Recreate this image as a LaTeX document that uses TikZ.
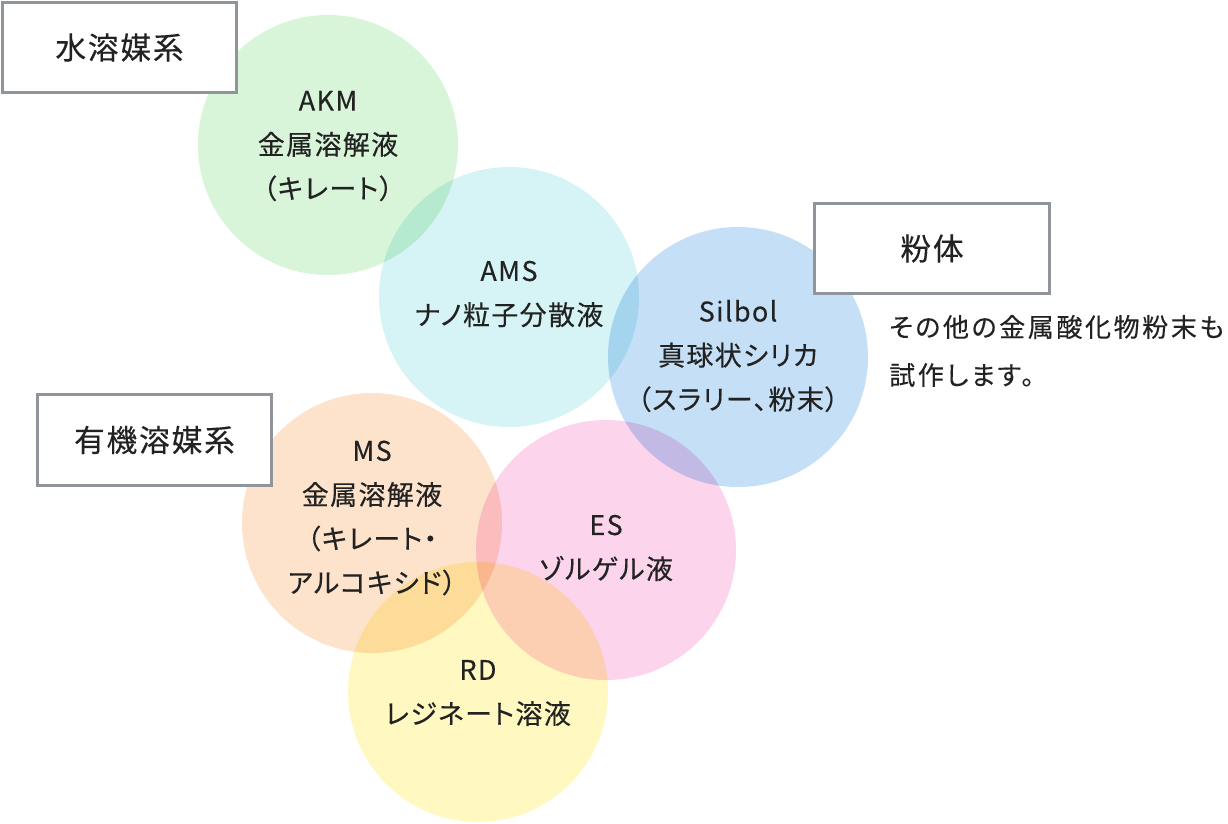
\documentclass[tikz,border=0pt]{standalone}
\usepackage{fontspec}
\setmainfont{Noto Sans CJK JP}
\newfontfamily\jpc[LetterSpace=5,RawFeature=+palt,FakeBold=0.3]{Noto Sans CJK JP}
\newfontfamily\jpb[LetterSpace=6,RawFeature=+palt,FakeBold=0.3]{Noto Sans CJK JP}
\newfontfamily\jps[LetterSpace=10,RawFeature=+palt,FakeBold=0.3]{Noto Sans CJK JP}
\definecolor{cgreen}{HTML}{D8F5D9}
\definecolor{ccyan}{HTML}{D6F4F6}
\definecolor{cblue}{HTML}{C5DFF7}
\definecolor{corange}{HTML}{FDE3CC}
\definecolor{cpink}{HTML}{FCD4EC}
\definecolor{cyellow}{HTML}{FFF8C1}
\definecolor{boxgray}{HTML}{8F959A}
\definecolor{txt}{HTML}{222222}
\tikzset{
  bubble/.style={circle, draw=none, minimum size=195pt, inner sep=0pt},
  bubbletext/.style={align=center, inner sep=0pt,
    font=\jpc\fontsize{20.25pt}{33pt}\selectfont, text=txt},
  catbox/.style={rectangle, draw=boxgray, line width=2.25pt, fill=white,
    minimum width=176pt, minimum height=68pt, inner sep=0pt,
    font=\jpb\fontsize{23pt}{30pt}\selectfont, text=txt},
  note/.style={align=left, inner sep=0pt, anchor=west,
    font=\jps\fontsize{19.5pt}{36pt}\selectfont, text=txt}
}
\begin{document}
\begin{tikzpicture}[x=0.75pt,y=-0.75pt]
\useasboundingbox (0,0) rectangle (1228,824);
\begin{scope}[blend mode=multiply]
\node[bubble, fill=cgreen] (akm) at (328,145) {};
\node[bubble, fill=ccyan] (ams) at (509,297) {};
\node[bubble, fill=cblue] (silbol) at (738,357) {};
\node[bubble, fill=corange] (ms) at (372,523) {};
\node[bubble, fill=cpink] (es) at (606,550) {};
\node[bubble, fill=cyellow] (rd) at (478,692) {};
\end{scope}
\node[bubbletext] (akmt) at (328,146) {AKM\\金属溶解液\\（キレート）};
\node[bubbletext] (amst) at (509,294) {AMS\\ナノ粒子分散液};
\node[bubbletext] (silbolt) at (738,356) {Silbol\\真球状シリカ\\（スラリー、粉末）};
\node[bubbletext] (mst) at (372,518) {MS\\金属溶解液\\（キレート・\\アルコキシド）};
\node[bubbletext] (est) at (606,548) {ES\\ゾルゲル液};
\node[bubbletext] (rdt) at (478,693) {RD\\レジネート溶液};
\node[catbox] (water) at (119.5,47.5) {水溶媒系};
\node[catbox] (powder) at (932,248.5) {粉体};
\node[catbox] (organic) at (154.5,440) {有機溶媒系};
\node[note] (other) at (889,351) {その他の金属酸化物粉末も\\試作します。};
\end{tikzpicture}
\end{document}
